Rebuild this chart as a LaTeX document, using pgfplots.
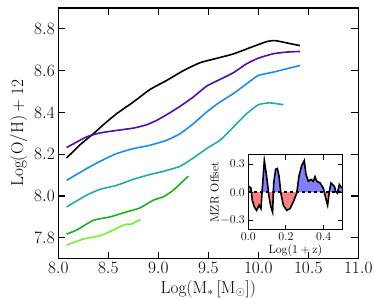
\documentclass[border=0pt]{standalone}
\usepackage{pgfplots}
\pgfplotsset{compat=1.18}
\definecolor{cpurple}{RGB}{76,16,166}
\definecolor{cblue}{RGB}{28,140,238}
\definecolor{cteal}{RGB}{32,174,164}
\definecolor{cgreen}{RGB}{30,176,30}
\definecolor{clgreen}{RGB}{118,240,50}
\definecolor{fblue}{RGB}{128,128,255}
\definecolor{fred}{RGB}{255,128,128}
\pgfplotstableread{
x y
0.004 0.062
0.014 0.044
0.021 -0.084
0.032 -0.157
0.044 -0.194
0.057 -0.139
0.067 -0.176
0.074 0.026
0.085 0.337
0.097 0.172
0.110 -0.048
0.120 -0.157
0.129 -0.212
0.135 0.099
0.145 0.245
0.154 0.253
0.163 0.172
0.173 -0.011
0.186 -0.139
0.204 -0.194
0.221 -0.176
0.239 -0.103
0.257 -0.011
0.269 0.172
0.283 0.282
0.297 0.337
0.306 0.190
0.319 0.117
0.333 0.136
0.345 0.117
0.354 0.165
0.363 0.117
0.381 0.099
0.398 0.044
0.411 -0.066
0.421 -0.139
0.430 0.007
0.439 0.099
0.448 0.081
0.457 0.062
0.464 0.007
0.473 -0.011
0.483 0.081
0.496 0.044
}\offset
\begin{document}
\begin{tikzpicture}
\useasboundingbox (-58.3pt,-40pt) rectangle (315.7pt,258.7pt);
\begin{axis}[
  at={(0pt,0pt)}, anchor=south west,
  width=300pt, height=250.7pt, scale only axis,
  xmin=8, xmax=11, ymin=7.7, ymax=8.9,
  xtick={8,8.5,...,11}, ytick={7.8,8.0,...,8.81},
  tick align=inside, major tick length=7pt,
  every tick/.style={black, line width=1.2pt},
  axis line style={line width=1.5pt},
  tick label style={font=\fontsize{17}{19}\selectfont},
  label style={font=\fontsize{17}{19}\selectfont},
  xticklabel style={/pgf/number format/.cd, fixed, fixed zerofill, precision=1},
  yticklabel style={/pgf/number format/.cd, fixed, fixed zerofill, precision=1},
  xlabel={$\mathrm{Log(M_*\,[M_\odot])}$},
  ylabel={$\mathrm{Log(O/H)+12}$},
  every axis plot/.append style={line width=1.6pt, no marks, smooth, tension=0.3},
]
\addplot[black] coordinates {(8.083,8.182) (8.217,8.245) (8.35,8.298) (8.467,8.348) (8.583,8.394) (8.75,8.45) (8.917,8.51) (9.083,8.553) (9.25,8.60) (9.417,8.638) (9.583,8.659) (9.75,8.680) (9.917,8.710) (10.083,8.739) (10.167,8.744) (10.283,8.733) (10.417,8.72)};
\addplot[cpurple] coordinates {(8.083,8.232) (8.167,8.254) (8.283,8.283) (8.417,8.302) (8.583,8.314) (8.75,8.325) (8.883,8.341) (8.983,8.362) (9.083,8.389) (9.217,8.429) (9.35,8.474) (9.483,8.526) (9.617,8.558) (9.75,8.590) (9.883,8.633) (10.0,8.660) (10.15,8.681) (10.283,8.689) (10.417,8.692)};
\addplot[cblue] coordinates {(8.083,8.075) (8.283,8.131) (8.417,8.166) (8.583,8.203) (8.75,8.227) (8.917,8.243) (9.083,8.267) (9.217,8.298) (9.35,8.346) (9.483,8.402) (9.617,8.45) (9.75,8.49) (9.883,8.537) (10.0,8.577) (10.15,8.593) (10.283,8.609) (10.417,8.625)};
\addplot[cteal] coordinates {(8.083,7.948) (8.283,8.004) (8.417,8.032) (8.583,8.051) (8.75,8.08) (8.917,8.103) (9.05,8.118) (9.217,8.142) (9.35,8.182) (9.483,8.227) (9.617,8.267) (9.75,8.330) (9.883,8.394) (10.0,8.437) (10.117,8.446) (10.25,8.437)};
\addplot[cgreen] coordinates {(8.083,7.818) (8.183,7.837) (8.35,7.884) (8.517,7.9) (8.683,7.924) (8.817,7.943) (8.95,7.98) (9.05,7.996) (9.15,8.028) (9.3,8.095)};
\addplot[clgreen] coordinates {(8.083,7.765) (8.25,7.794) (8.417,7.810) (8.55,7.837) (8.667,7.864) (8.733,7.866) (8.823,7.888)};
\end{axis}
% positive fill (upper half of inset)
\begin{axis}[
  at={(190pt,66.5pt)}, anchor=south west,
  width=94.2pt, height=37.5pt, scale only axis,
  xmin=0, xmax=0.5, ymin=0, ymax=0.4, hide axis,
]
\addplot[fill=fblue, draw=none] table {\offset} |- (axis cs:0.004,0) -- cycle;
\end{axis}
% negative fill (lower half of inset)
\begin{axis}[
  at={(190pt,29pt)}, anchor=south west,
  width=94.2pt, height=37.5pt, scale only axis,
  xmin=0, xmax=0.5, ymin=-0.4, ymax=0, hide axis,
]
\addplot[fill=fred, draw=none] table {\offset} |- (axis cs:0.004,0) -- cycle;
\end{axis}
\begin{axis}[
  at={(190pt,29pt)}, anchor=south west,
  width=94.2pt, height=75pt, scale only axis,
  xmin=0, xmax=0.5, ymin=-0.4, ymax=0.4,
  xtick={0,0.2,0.4}, ytick={-0.3,0,0.3},
  tick align=inside, major tick length=5pt,
  every tick/.style={black, line width=1pt},
  axis line style={line width=1.3pt},
  tick label style={font=\fontsize{12}{14}\selectfont},
  label style={font=\fontsize{13}{15}\selectfont},
  xticklabel style={/pgf/number format/.cd, fixed, fixed zerofill, precision=1},
  yticklabel style={/pgf/number format/.cd, fixed, fixed zerofill, precision=1},
  xlabel={$\mathrm{Log(1+z)}$},
  ylabel={$\mathrm{MZR\ Offset}$},
  xlabel style={yshift=3pt},
  ylabel style={yshift=-5pt},
]
\addplot[black, line width=1.4pt, dashed] coordinates {(0,0) (0.5,0)};
\addplot[black, line width=1.6pt] table {\offset};
\end{axis}
\end{tikzpicture}
\end{document}
